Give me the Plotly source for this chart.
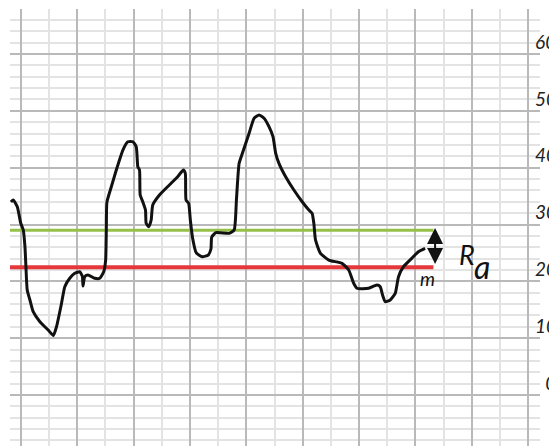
import plotly.graph_objects as go

# ---- data ----
profile_x = [-1.77, -1.36, -0.65, -0.05, 0.41, 0.71, 0.88, 1.11, 1.59, 2.17, 3.36, 4.83, 5.75,
             6.31, 7.20, 7.78, 8.66, 9.55, 10.43, 10.91, 11.01, 11.32, 11.90, 13.08, 13.97,
             14.67, 15.03, 15.15, 15.26, 16.04, 16.92, 18.09, 18.97, 19.86, 20.46, 20.74,
             21.04, 21.16, 21.62, 22.10, 22.22, 22.68, 23.11, 23.39, 24.58, 26.34, 27.81,
             28.82, 29.17, 29.30, 29.76, 30.06, 30.46, 31.12, 32.18, 33.24, 33.72, 33.86,
             34.60, 36.95, 37.84, 38.24, 38.72, 39.30, 40.49, 41.37, 42.26, 43.14, 44.02,
             44.73, 45.21, 45.79, 46.98, 48.44, 49.91, 51.10, 51.68, 51.98, 52.28, 53.16,
             54.63, 56.98, 58.17, 59.05, 59.64, 61.70, 63.17, 63.77, 64.18, 64.66, 65.54,
             66.43, 67.01, 67.89, 69.36, 70.54, 71.73]
profile_y = [33.96, 34.31, 33.13, 30.27, 29.03, 26.10, 22.58, 18.48, 16.72, 14.66, 12.90, 11.44,
             10.47, 12.02, 16.14, 19.06, 20.54, 21.41, 21.70, 20.82, 19.18, 20.82, 21.12,
             20.54, 20.54, 21.64, 23.75, 29.03, 33.96, 36.65, 39.59, 43.11, 44.57, 44.57,
             43.69, 40.17, 39.59, 35.19, 34.01, 32.55, 30.21, 29.61, 30.79, 33.43, 35.19,
             36.95, 38.41, 39.59, 39.01, 34.31, 33.73, 30.79, 27.63, 24.99, 24.34, 24.63,
             25.69, 27.80, 28.56, 28.45, 29.03, 34.31, 40.77, 42.53, 46.05, 48.69, 49.27,
             48.69, 47.21, 45.45, 42.53, 40.77, 38.41, 36.07, 34.01, 32.55, 31.97, 30.21,
             27.27, 24.93, 23.75, 23.17, 22.00, 19.66, 18.78, 18.78, 19.36, 19.06, 17.60,
             16.42, 16.72, 17.90, 20.82, 22.58, 24.05, 25.22, 25.81]

peak_level = 29.0      # green line
mean_level = 22.5      # red line "m"
level_x = [-3.0, 73.2]
arrow_x = 73.5

y_tick_vals = [0, 10, 20, 30, 40, 50, 60]
y_tick_text = ["\u20070", "10", "20", "30", "40", "50", "60"]

x_range = [-1.945, 92.12]
y_range = [-8.97, 67.92]

fig = go.Figure()

fig.add_trace(go.Scatter(x=level_x, y=[peak_level, peak_level], mode="lines",
                         line=dict(color="#95c049", width=3), hoverinfo="skip"))
fig.add_trace(go.Scatter(x=level_x, y=[mean_level, mean_level], mode="lines",
                         line=dict(color="#e5383b", width=4), hoverinfo="skip"))
fig.add_trace(go.Scatter(x=profile_x, y=profile_y, mode="lines",
                         line=dict(color="#111111", width=3, shape="spline", smoothing=0.5),
                         hoverinfo="skip"))

# double-headed arrow Ra
fig.add_annotation(x=arrow_x, y=peak_level + 0.4, ax=arrow_x, ay=mean_level + 0.3,
                   xref="x", yref="y", axref="x", ayref="y", text="",
                   showarrow=True, arrowhead=2, startarrowhead=2, arrowside="end+start",
                   arrowsize=1.6, startarrowsize=1.6, arrowwidth=2, arrowcolor="#111111")

fig.add_annotation(x=79.2, y=24.8, xref="x", yref="y", text="R",
                   showarrow=False, xanchor="center", yanchor="middle",
                   font=dict(family="Lato", size=27, color="#111111", style="italic"))
fig.add_annotation(x=81.9, y=22.6, xref="x", yref="y", text="a",
                   showarrow=False, xanchor="center", yanchor="middle",
                   font=dict(family="Lato", size=32, color="#111111", style="italic"))
fig.add_annotation(x=72.1, y=mean_level - 2.0, xref="x", yref="y", text="m",
                   showarrow=False, xanchor="center", yanchor="middle",
                   font=dict(family="Lato", size=19, color="#111111", style="italic"))

# the page body has an 8px default margin, so the figure is sized/offset for it
fig.update_layout(
    width=549, height=438,
    margin=dict(l=2, r=15, t=1, b=0),
    paper_bgcolor="white", plot_bgcolor="white",
    showlegend=False,
    xaxis=dict(range=x_range, dtick=10, tick0=0, showticklabels=False, ticks="",
               showgrid=True, gridcolor="#b9b9b9", gridwidth=2, zeroline=False,
               showline=False,
               minor=dict(dtick=5, tick0=0, showgrid=True, gridcolor="#e3e3e3", gridwidth=1.5)),
    yaxis=dict(range=y_range, side="right", tickvals=y_tick_vals, ticktext=y_tick_text,
               ticks="", showgrid=True, gridcolor="#b9b9b9", gridwidth=2, zeroline=False,
               showline=False, ticklabelshift=-12, ticklabelstandoff=-6,
               tickfont=dict(family="Lato", size=19, color="#222222", style="italic"),
               minor=dict(dtick=2, tick0=0, showgrid=True, gridcolor="#e3e3e3", gridwidth=1.5)),
)

fig.write_html("out.html")
